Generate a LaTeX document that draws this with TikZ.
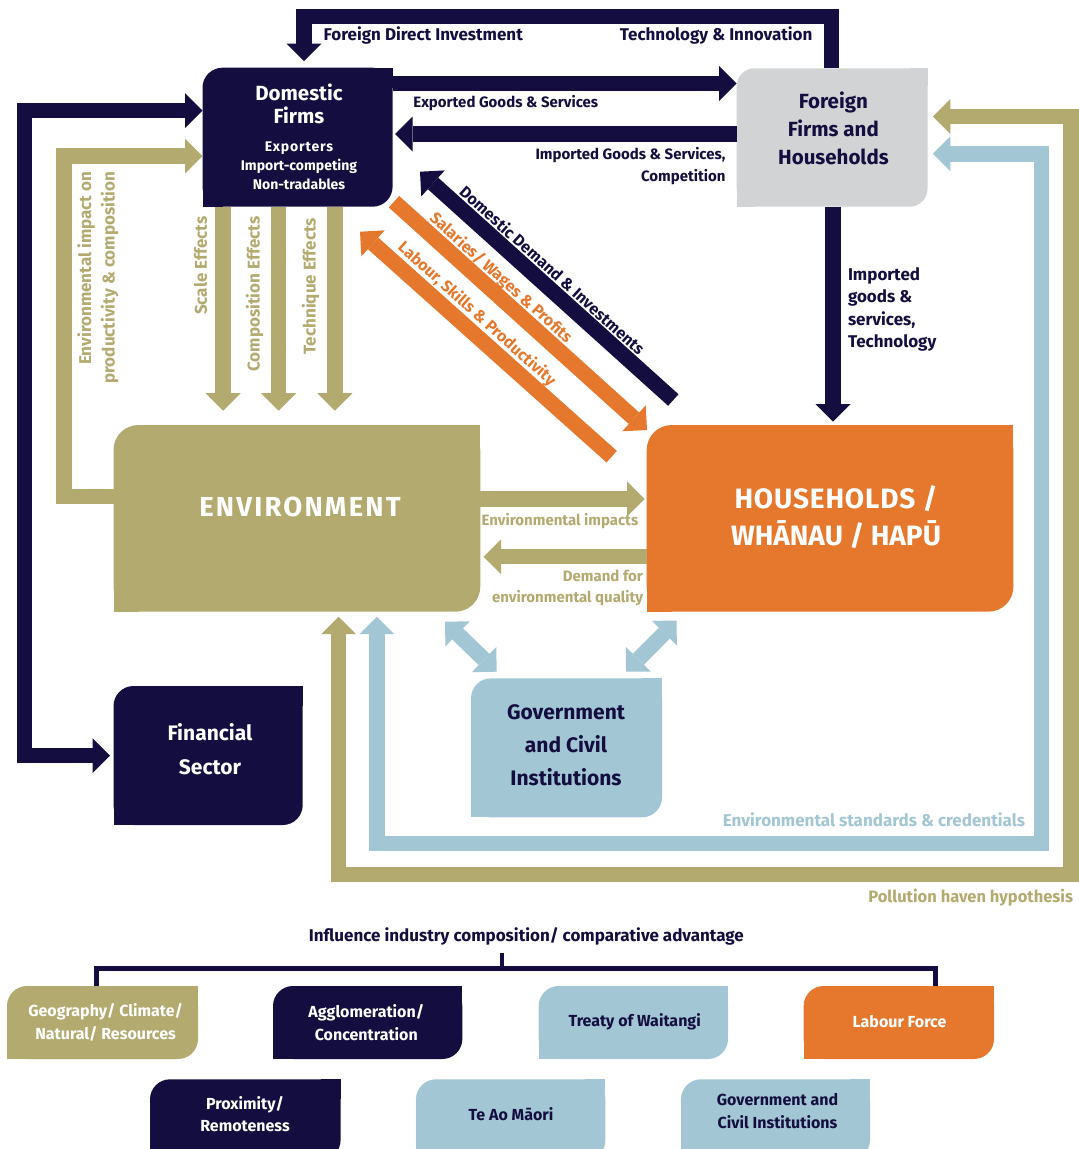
\documentclass[tikz,border=0pt]{standalone}
\usepackage{fontspec}
\setmainfont{Fira Sans}
\usetikzlibrary{arrows.meta,calc}
\definecolor{navy}{HTML}{130E3F}
\definecolor{olive}{HTML}{B2AA6E}
\definecolor{orng}{HTML}{E5782C}
\definecolor{lblue}{HTML}{A2C6D4}
\definecolor{lgrey}{HTML}{D1D3D4}
% \rbox{name}{x1}{y1}{x2}{y2}{colour}{radius}: top-left and bottom-right corners rounded
\newcommand{\rbox}[7]{%
  \fill[#6, rounded corners=#7pt] (#2,#3) rectangle (#4,#5);
  \fill[#6] ({#4-#7},#3) rectangle (#4,{#3+#7});
  \fill[#6] (#2,{#5-#7}) rectangle ({#2+#7},#5);
  \node[inner sep=0pt, outer sep=0pt, minimum width={#4-#2}, minimum height={#5-#3}] (#1) at ({(#2+#4)/2},{(#3+#5)/2}) {};%
}
\begin{document}
\begin{tikzpicture}[x=1pt,y=-1pt,
  lbl/.style={inner sep=0pt, outer sep=0pt},
  fsz/.style 2 args={font=\bfseries\fontsize{#1}{#2}\selectfont},
  fat/.style={line width=15.5pt, line join=miter, draw=#1, -{Triangle[length=17.5pt,width=35pt,line width=0pt]}},
  fatboth/.style={line width=15.5pt, line join=miter, draw=#1, {Triangle[length=17.5pt,width=35pt,line width=0pt]}-{Triangle[length=17.5pt,width=35pt,line width=0pt]}},
  tree/.style={draw=navy, line width=4.5pt, line join=miter}
]
\useasboundingbox (0,0) rectangle (1079,1149);
\clip (0,0) rectangle (1079,1149);
\fill[white] (0,0) rectangle (1079,1149);

% ---------- boxes ----------
\rbox{df}{202.5}{67.7}{392.6}{206.7}{navy}{20}
\rbox{ff}{736.7}{68.3}{927.5}{206.7}{lgrey}{18}
\rbox{env}{113.5}{425}{480.3}{611.7}{olive}{25}
\rbox{hh}{646.7}{425}{1013.4}{611.7}{orng}{25}
\rbox{fin}{113.5}{686}{302.7}{825}{navy}{20}
\rbox{gov}{471}{678.3}{662}{817.3}{lblue}{20}
\rbox{geo}{7}{986}{198}{1059}{olive}{20}
\rbox{agg}{273}{986}{462.3}{1059}{navy}{20}
\rbox{tow}{538.7}{986}{728}{1059}{lblue}{20}
\rbox{lab}{803.6}{986}{994}{1059}{orng}{20}
\rbox{prox}{150}{1079.3}{340.6}{1160}{navy}{20}
\rbox{tam}{416}{1079.3}{605.4}{1160}{lblue}{20}
\rbox{gci}{681}{1079.3}{870}{1160}{lblue}{20}

% ---------- coordinates ----------
\coordinate (fdiR) at (831.4,16.3);
\coordinate (fdiL) at (304,16.3);
\coordinate (exy) at (0,83.5);
\coordinate (imy) at (0,134);
\coordinate (ln1) at (24.5,110.5);
\coordinate (ln2) at (24.5,755.7);
\coordinate (ol1) at (64,496.5);
\coordinate (ol2) at (64,156);
\coordinate (sx) at (223.2,0);
\coordinate (cx) at (278.7,0);
\coordinate (tx) at (334.9,0);
\coordinate (eh) at (0,499);
\coordinate (he) at (0,556.7);
\coordinate (fh) at (833,0);
\coordinate (ddT) at (673.3,400);
\coordinate (ddH) at (420,171.7);
\coordinate (swT) at (394,201.7);
\coordinate (swH) at (647,430);
\coordinate (lsT) at (611.7,456.7);
\coordinate (lsH) at (360,231.7);
\coordinate (ga1) at (445,621.7);
\coordinate (ga2) at (496.7,671.7);
\coordinate (gb1) at (676.7,620.7);
\coordinate (gb2) at (626,671.7);
\coordinate (ph1) at (1071,116.5);
\coordinate (ph2) at (1071,874.3);
\coordinate (ph3) at (338.7,874.3);
\coordinate (es1) at (1041.5,153.8);
\coordinate (es2) at (1041.5,843.3);
\coordinate (es3) at (376.8,843.3);
\coordinate (st) at (502,952.7);
\coordinate (tl) at (96.3,968.3);
\coordinate (tr) at (935.7,968.3);

% ---------- connectors ----------
\draw[fat=navy] (ff.north -| fdiR) -- (fdiR) -- (fdiL) -- ($(df.north -| fdiL)+(0,-6.7)$);
\draw[fat=navy] (df.east |- exy) -- (ff.west |- exy);
\draw[fat=navy] (ff.west |- imy) -- ($(df.east |- imy)+(2.5,0)$);
\draw[fatboth=navy] (df.west |- ln1) -- (ln1) -- (ln2) -- ($(fin.west |- ln2)+(-3.5,0)$);
\draw[fat=olive] (env.west |- ol1) -- (ol1) -- (ol2) -- (df.west |- ol2);
\draw[fat=olive] (df.south -| sx) -- ($(env.north -| sx)+(0,-14.3)$);
\draw[fat=olive] (df.south -| cx) -- ($(env.north -| cx)+(0,-14.3)$);
\draw[fat=olive] (df.south -| tx) -- ($(env.north -| tx)+(0,-14.3)$);
\draw[fat=olive] (env.east |- eh) -- ($(hh.west |- eh)+(-2,0)$);
\draw[fat=olive] (hh.west |- he) -- ($(env.east |- he)+(3.4,0)$);
\draw[fat=navy] (ff.south -| fh) -- ($(hh.north -| fh)+(0,-3.3)$);
\draw[fat=navy] (ddT) -- (ddH);
\draw[fat=orng] (swT) -- (swH);
\draw[fat=orng] (lsT) -- (lsH);
\draw[fatboth=lblue] (ga1) -- (ga2);
\draw[fatboth=lblue] (gb1) -- (gb2);
\draw[fatboth=olive] ($(ff.east |- ph1)+(5.3,0)$) -- (ph1) -- (ph2) -- (ph3) -- ($(env.south -| ph3)+(0,5)$);
\draw[fatboth=lblue] ($(ff.east |- es1)+(5.3,0)$) -- (es1) -- (es2) -- (es3) -- ($(env.south -| es3)+(0,5)$);
\draw[tree] (geo.north -| tl) -- (tl) -- (tr) -- (lab.north -| tr);
\draw[tree] (st) -- (st |- tl);

% ---------- texts ----------
\node[lbl, fsz={17}{20}, text=navy, anchor=mid west] (tfdi) at (323.7,38) {Foreign Direct Investment};
\node[lbl, fsz={17}{20}, text=navy, anchor=mid east] (ttech) at (812.4,38) {Technology \& Innovation};
\node[lbl, fsz={15}{20}, text=navy, anchor=mid west] (texp) at (413.4,104.5) {Exported Goods \& Services};
\node[lbl, fsz={15}{21.7}, text=navy, anchor=east, align=right] (timp) at (725.5,166) {Imported Goods \& Services,\\Competition};
\node[lbl, fsz={20.5}{22.3}, text=white, align=center] (dft) at (299,104) {Domestic\\Firms};
\node[lbl, fsz={14}{18.8}, text=white, align=center] (dfs) at (299,166) {\addfontfeatures{LetterSpace=6}Exporters\\Import-competing\\Non-tradables};
\node[lbl, fsz={20.5}{28}, text=navy, align=center] (fft) at (833.4,128) {Foreign\\Firms and\\Households};
\node[lbl, fsz={17}{22.4}, text=navy, align=left, anchor=west] (tig) at (848,309.5) {Imported\\goods \&\\services,\\Technology};
\node[lbl, fsz={16}{20}, text=navy, rotate=-42] (tdd) at (552.5,270) {Domestic Demand \& Investments};
\node[lbl, fsz={16}{20}, text=orng, rotate=-42] (tsw) at (500.8,278.3) {Salaries/ Wages \& Profits};
\node[lbl, fsz={16}{20}, text=orng, rotate=-42] (tls) at (476.7,314.2) {Labour, Skills \& Productivity};
\node[lbl, fsz={17}{20}, text=olive, rotate=90, anchor=mid east] (tse) at (204.3,216.7) {Scale Effects};
\node[lbl, fsz={17}{20}, text=olive, rotate=90, anchor=mid east] (tce) at (256.9,216.7) {Composition Effects};
\node[lbl, fsz={17}{20}, text=olive, rotate=90, anchor=mid east] (tte) at (313,218) {Technique Effects};
\node[lbl, fsz={17}{23.5}, text=olive, rotate=90, anchor=east, align=right] (tei2) at (97.75,171.7) {Environmental impact on\\productivity \& composition};
\node[lbl, fsz={27.5}{30}, text=white] (tenv) at (300,506.7) {\addfontfeatures{LetterSpace=8}ENVIRONMENT};
\node[lbl, fsz={28}{37.7}, text=white, align=center] (thh) at (836,517) {\addfontfeatures{LetterSpace=3}HOUSEHOLDS /\\WHĀNAU / HAPŪ};
\node[lbl, fsz={15}{20}, text=olive, anchor=mid west] (tei) at (481.6,523) {Environmental impacts};
\node[lbl, fsz={15}{21}, text=olive, anchor=east, align=right] (tdq) at (643,588) {Demand for\\environmental quality};
\node[lbl, fsz={21}{33.3}, text=white, align=center] (tfin) at (210,749.3) {Financial\\Sector};
\node[lbl, fsz={21}{32.8}, text=navy, align=center] (tgov) at (566,745.5) {Government\\and Civil\\Institutions};
\node[lbl, fsz={17}{20}, text=lblue, anchor=mid east] (tes) at (1025,824) {Environmental standards \& credentials};
\node[lbl, fsz={16.5}{20}, text=olive, anchor=mid east] (tph) at (1073,899.5) {Pollution haven hypothesis};
\node[lbl, fsz={17}{20}, text=navy] (tinf) at (526.4,936) {Influence industry composition/ comparative advantage};
\node[lbl, fsz={16}{23}, text=white, align=center] (tgeo) at (105.6,1022.5) {Geography/ Climate/\\Natural/ Resources};
\node[lbl, fsz={16}{23}, text=white, align=center] (tagg) at (366.3,1022.5) {Agglomeration/\\Concentration};
\node[lbl, fsz={16}{23}, text=navy, align=center] (ttow) at (634.7,1021.7) {Treaty of Waitangi};
\node[lbl, fsz={16}{23}, text=white, align=center] (tlab) at (899.5,1021.7) {Labour Force};
\node[lbl, fsz={16}{22.3}, text=white, align=center] (tprox) at (245,1114) {Proximity/\\Remoteness};
\node[lbl, fsz={16}{23}, text=navy, align=center] (ttam) at (511,1114) {Te Ao Māori};
\node[lbl, fsz={16}{23}, text=navy, align=center] (tgci) at (777.5,1111.5) {Government and\\Civil Institutions};
\end{tikzpicture}
\end{document}
